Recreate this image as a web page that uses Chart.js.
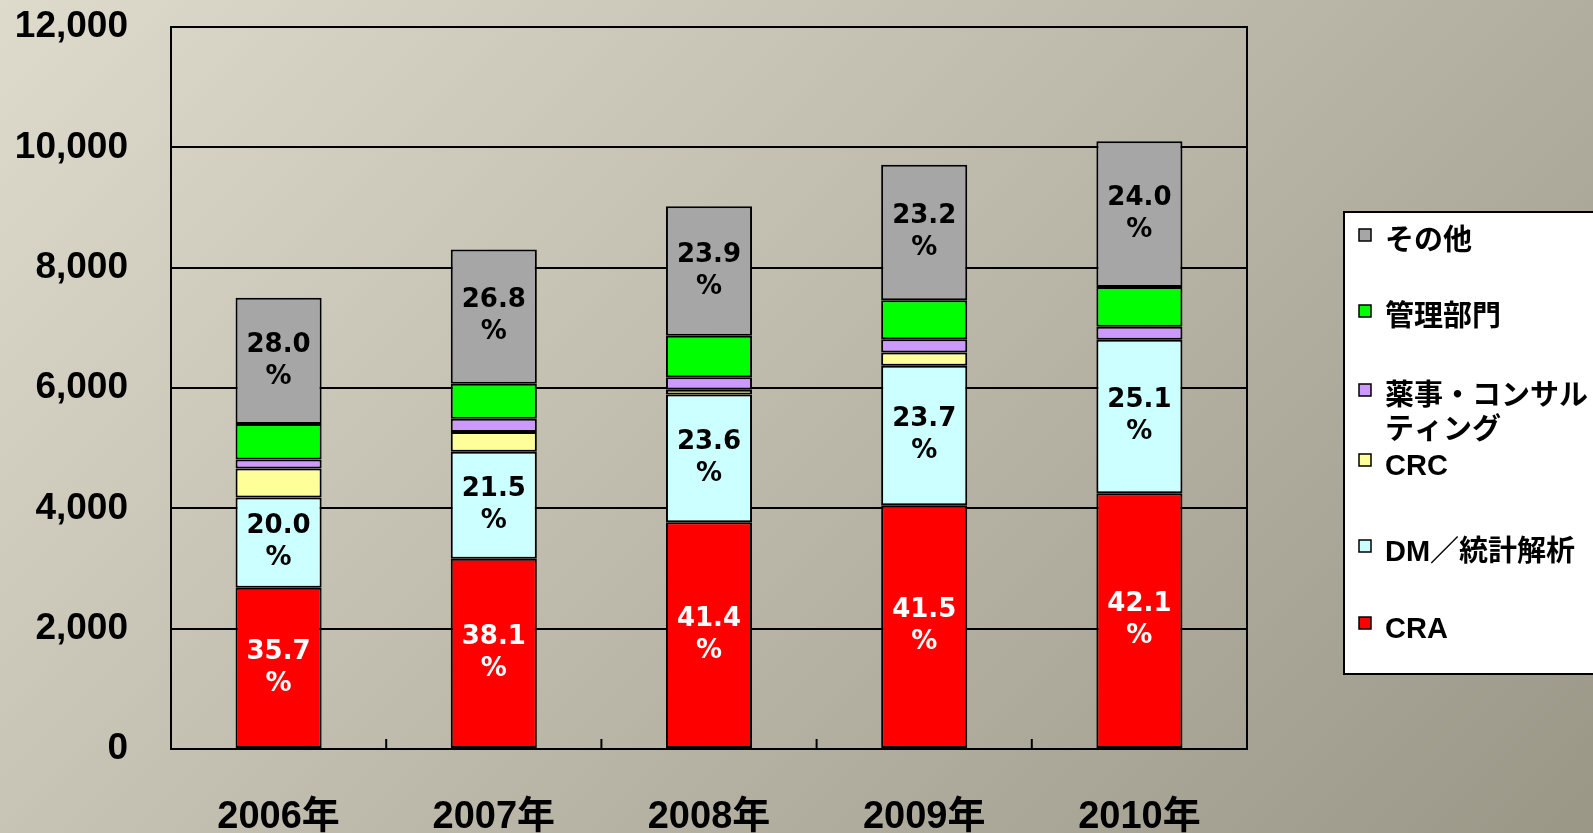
<!DOCTYPE html>
<html>
<head>
<meta charset="utf-8">
<script src="https://cdn.jsdelivr.net/npm/chart.js@4"></script>
<style>
  html, body { margin: 0; padding: 0; }
  #chart { display: block; }
</style>
</head>
<body>
<canvas id="chart" width="1593" height="833"></canvas>
<script>
// ── Data ──────────────────────────────────────────────────
const years   = ['2006年', '2007年', '2008年', '2009年', '2010年'];
const cra     = [2680, 3160, 3770, 4050, 4250];
const dm      = [1500, 1780, 2120, 2320, 2550];
const crc     = [480, 330, 80, 220, 0];
const yakuji  = [150, 220, 210, 220, 220];
const kanri   = [590, 580, 690, 650, 660];
const other   = [2100, 2230, 2150, 2250, 2420];

const craPct   = ['35.7', '38.1', '41.4', '41.5', '42.1'];
const dmPct    = ['20.0', '21.5', '23.6', '23.7', '25.1'];
const otherPct = ['28.0', '26.8', '23.9', '23.2', '24.0'];

const yMax  = 12000;
const yStep = 2000;

const LATIN = '"Liberation Sans", "Noto Sans CJK JP", sans-serif';
const LABEL = '"DejaVu Sans", sans-serif';

// ── Plugins ───────────────────────────────────────────────
const bgPlugin = {
  id: 'bg',
  beforeDraw(chart) {
    const { ctx, width, height } = chart;
    const g = ctx.createLinearGradient(0, 0, width, height * 1.9);
    g.addColorStop(0, '#dedbcd');
    g.addColorStop(1, '#868272');
    ctx.save();
    ctx.fillStyle = g;
    ctx.fillRect(0, 0, width, height);
    ctx.restore();
  }
};

// inward ticks between categories on the x axis
const xTickPlugin = {
  id: 'xTicks',
  afterDatasetsDraw(chart) {
    const { ctx, scales: { x }, chartArea } = chart;
    ctx.save();
    ctx.strokeStyle = '#000';
    ctx.lineWidth = 2;
    for (let i = 1; i < years.length; i++) {
      const px = (x.getPixelForTick(i - 1) + x.getPixelForTick(i)) / 2;
      ctx.beginPath();
      ctx.moveTo(px, chartArea.bottom);
      ctx.lineTo(px, chartArea.bottom - 10);
      ctx.stroke();
    }
    ctx.restore();
  }
};

// percentage labels inside bars
const pctPlugin = {
  id: 'pct',
  afterDatasetsDraw(chart) {
    const { ctx } = chart;
    ctx.save();
    ctx.font = 'bold 26px ' + LABEL;
    ctx.textAlign = 'center';
    ctx.textBaseline = 'middle';
    chart.data.datasets.forEach((ds, di) => {
      if (!ds.pct) return;
      const meta = chart.getDatasetMeta(di);
      meta.data.forEach((bar, i) => {
        const cy = (bar.y + bar.base) / 2;
        ctx.fillStyle = ds.pctColor;
        ctx.fillText(ds.pct[i], bar.x, cy - 16);
        ctx.fillText('%', bar.x, cy + 16);
      });
    });
    ctx.restore();
  }
};

// boxed legend on the right, top series first
const legendPlugin = {
  id: 'boxLegend',
  afterDraw(chart) {
    const { ctx } = chart;
    const left = 1344, top = 212, right = 1600, bottom = 674;
    ctx.save();
    ctx.fillStyle = '#fff';
    ctx.fillRect(left, top, right - left, bottom - top);
    ctx.strokeStyle = '#000';
    ctx.lineWidth = 2;
    ctx.strokeRect(left, top, right - left, bottom - top);

    const items = chart.data.datasets.slice().reverse();
    const rowY = [242, 318, 397, 467, 553, 630];
    ctx.font = 'bold 29px ' + LATIN;
    ctx.textBaseline = 'middle';
    ctx.textAlign = 'left';
    items.forEach((ds, i) => {
      const y = rowY[i];
      ctx.fillStyle = ds.backgroundColor;
      ctx.fillRect(1359, y - 13, 12, 12);
      ctx.lineWidth = 1.5;
      ctx.strokeRect(1359, y - 13, 12, 12);
      ctx.fillStyle = '#000';
      const lines = ds.label.split('\n');
      lines.forEach((ln, k) => ctx.fillText(ln, 1385, y + k * 34));
    });
    ctx.restore();
  }
};

// ── Chart ─────────────────────────────────────────────────
function makeSet(label, data, color, pct, pctColor) {
  return {
    label, data,
    backgroundColor: color,
    borderColor: '#000',
    borderWidth: 2,
    borderSkipped: false,
    barPercentage: 0.4,
    categoryPercentage: 1.0,
    pct, pctColor
  };
}

new Chart(document.getElementById('chart'), {
  type: 'bar',
  data: {
    labels: years,
    datasets: [
      makeSet('CRA', cra, '#ff0000', craPct, '#ffffff'),
      makeSet('DM／統計解析', dm, '#ccffff', dmPct, '#000000'),
      makeSet('CRC', crc, '#ffff99'),
      makeSet('薬事・コンサル\nティング', yakuji, '#cc99ff'),
      makeSet('管理部門', kanri, '#00ff00'),
      makeSet('その他', other, '#a6a6a6', otherPct, '#000000')
    ]
  },
  options: {
    responsive: false,
    animation: false,
    layout: { padding: { top: 27, right: 346, left: 0, bottom: 0 } },
    plugins: { legend: { display: false }, tooltip: { enabled: false } },
    scales: {
      x: {
        stacked: true,
        afterFit: s => { s.height = 84; s.paddingLeft = 0; s.paddingRight = 0; },
        grid: { display: false },
        border: { color: '#000', width: 2 },
        ticks: { color: '#000', padding: 38, font: { family: LATIN, size: 38, weight: 'bold' } }
      },
      y: {
        stacked: true,
        min: 0, max: yMax,
        afterFit: s => { s.width = 171; s.paddingTop = 0; s.paddingBottom = 0; },
        grid: { color: '#000', lineWidth: 2, drawTicks: false },
        border: { color: '#000', width: 2 },
        ticks: {
          stepSize: yStep, color: '#000', padding: 43,
          font: { family: LATIN, size: 37, weight: 'bold' },
          callback: v => v.toLocaleString('en-US')
        }
      },
      y2: {
        position: 'right',
        min: 0, max: yMax,
        afterFit: s => { s.width = 0; s.paddingTop = 0; s.paddingBottom = 0; },
        grid: { display: false, drawTicks: false },
        border: { color: '#000', width: 2 },
        ticks: { display: false }
      }
    }
  },
  plugins: [bgPlugin, xTickPlugin, pctPlugin, legendPlugin]
});
</script>
</body>
</html>
